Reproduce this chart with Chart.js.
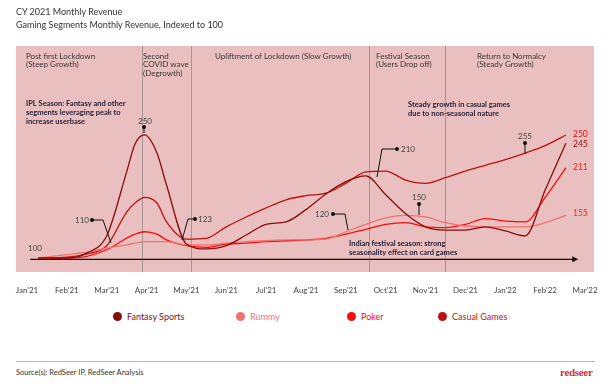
<!DOCTYPE html>
<html lang="en">
<head>
<meta charset="UTF-8">
<title>Gaming Segments Monthly Revenue</title>
<script src="https://cdn.jsdelivr.net/npm/chart.js@4.4.1/dist/chart.umd.min.js"></script>
<style>
    body { margin: 0; background: #fff; font-family: Lato, sans-serif; }
    #page { position: relative; width: 613px; height: 384px; overflow: hidden; }
    #graphe { position: absolute; left: 0; top: 0; }
    .titre { position: absolute; left: 16px; font-size: 9px; color: #333; white-space: nowrap; }
    .leg { position: absolute; top: 311px; font-size: 9px; white-space: nowrap; line-height: 12px; }
    .leg i { display: inline-block; width: 9px; height: 9px; border-radius: 50%; vertical-align: -1px; margin-right: 5px; }
    #trait { position: absolute; left: 16px; top: 361px; width: 579px; height: 1px; background: #b5b5b5; }
    #source { position: absolute; left: 16px; top: 368px; font-size: 7.5px; color: #333; }
    #logo { position: absolute; left: 560px; top: 366px; font-family: "Liberation Serif", serif; font-weight: bold; font-size: 11px; color: #d9302a; letter-spacing: -0.3px; }
</style>
</head>
<body>
<div id="page">
    <canvas id="graphe" width="613" height="300"></canvas>
    <div class="titre" style="top:6px">CY 2021 Monthly Revenue</div>
    <div class="titre" style="top:19px">Gaming Segments Monthly Revenue, Indexed to 100</div>
    <div id="zoneLegende"></div>
    <div id="trait"></div>
    <div id="source">Source(s): RedSeer IP, RedSeer Analysis</div>
    <div id="logo">redseer</div>
</div>
<script>
    // Libelles de l'axe des mois
    const moisLabels = ["Jan'21", "Feb'21", "Mar'21", "Apr'21", "May'21", "Jun'21", "Jul'21", "Aug'21",
        "Sep'21", "Oct'21", "Nov'21", "Dec'21", "Jan'22", "Feb'22", "Mar'22"];

    // Position (en mois depuis Jan'21) de chaque point
    const positions = [0.28, 1, 1.5, 2, 2.5, 2.71, 2.95, 3.26, 3.5, 4, 4.5, 5, 5.5, 6, 6.5, 7, 7.5, 8, 8.5,
        9, 9.5, 10, 10.5, 11, 11.5, 12, 12.5, 13, 13.52];

    // Indices (base 100)
    const fantasy = [100, 100, 106, 127, 205, 239, 250, 228, 189, 117, 111, 115, 128, 141, 144, 159, 178, 193, 200,
        177, 154, 138, 134, 134, 138, 133, 127, 183, 240];
    const rummy = [100, 104, 107, 112, 116, 118, 120, 120, 120, 116, 116, 118, 120, 121, 122, 122, 123, 132, 141,
        149, 152, 150, 143, 139, 138, 138, 138, 143, 152];
    const poker = [100, 100, 102, 110, 124, 129, 132, 129, 122, 115, 113, 117, 118, 120, 121, 122, 124, 129, 135,
        141, 143, 138, 137, 141, 148, 145, 144, 174, 210];
    const casual = [100, 101, 105, 115, 156, 167, 174, 167, 144, 123, 124, 138, 150, 161, 171, 176, 179, 191, 205,
        206, 195, 191, 198, 206, 213, 220, 228, 237, 250];

    const series = [
        { nom: 'Fantasy Sports', valeurs: fantasy, couleur: '#8b0c0c' },
        { nom: 'Rummy', valeurs: rummy, couleur: '#f27272' },
        { nom: 'Poker', valeurs: poker, couleur: '#ff0a0a' },
        { nom: 'Casual Games', valeurs: casual, couleur: '#bd1111' }
    ];

    // Separateurs des phases (en mois)
    const separateurs = [2.89, 4.11, 8.58, 10.49];

    // Legende HTML
    const posLegende = [113, 236, 347, 438];
    series.forEach((s, i) => {
        let item = document.createElement('div');
        item.className = 'leg';
        item.style.left = posLegende[i] + 'px';
        item.style.color = s.couleur;
        item.innerHTML = '<i style="background:' + s.couleur + '"></i>' + s.nom;
        document.querySelector('#zoneLegende').appendChild(item);
    });

    const texte = (ctx, t, x, y, font, couleur, align) => {
        ctx.font = font;
        ctx.fillStyle = couleur;
        ctx.textAlign = align || 'left';
        ctx.textBaseline = 'middle';
        ctx.fillText(t, x, y);
    };

    const point = (ctx, x, y) => {
        ctx.beginPath();
        ctx.arc(x, y, 2, 0, Math.PI * 2);
        ctx.fillStyle = '#111';
        ctx.fill();
    };

    const trace = (ctx, pts) => {
        ctx.beginPath();
        ctx.moveTo(pts[0][0], pts[0][1]);
        pts.slice(1).forEach(p => ctx.lineTo(p[0], p[1]));
        ctx.strokeStyle = '#111';
        ctx.lineWidth = 1;
        ctx.stroke();
    };

    // Fond rose, separateurs et axe flechee
    const fondPlugin = {
        id: 'fond',
        beforeDatasetsDraw(chart) {
            const { ctx, chartArea: a, scales } = chart;
            ctx.save();
            ctx.fillStyle = '#e9bfbf';
            ctx.fillRect(a.left, a.top, a.right - a.left, a.bottom - a.top);

            ctx.strokeStyle = '#a99393';
            ctx.lineWidth = 1;
            separateurs.forEach(m => {
                let x = Math.round(scales.x.getPixelForValue(m)) + 0.5;
                ctx.beginPath();
                ctx.moveTo(x, a.top);
                ctx.lineTo(x, a.bottom);
                ctx.stroke();
            });

            let y0 = scales.y.getPixelForValue(99) + 0.5;
            let xa = scales.x.getPixelForValue(0.08), xb = scales.x.getPixelForValue(13.83);
            ctx.strokeStyle = '#111';
            ctx.lineWidth = 1.2;
            ctx.beginPath();
            ctx.moveTo(xa, y0);
            ctx.lineTo(xb - 3, y0);
            ctx.stroke();
            ctx.beginPath();
            ctx.moveTo(xb, y0);
            ctx.lineTo(xb - 6, y0 - 3);
            ctx.lineTo(xb - 6, y0 + 3);
            ctx.closePath();
            ctx.fillStyle = '#111';
            ctx.fill();

            // Titres des phases
            const f = '8px Lato', c = '#3d3535';
            texte(ctx, 'Post first Lockdown', 26, 56, f, c);
            texte(ctx, '(Steep Growth)', 26, 64.5, f, c);
            texte(ctx, 'Second', 143, 56, f, c);
            texte(ctx, 'COVID wave', 143, 64.5, f, c);
            texte(ctx, '(Degrowth)', 143, 73, f, c);
            texte(ctx, 'Upliftment of Lockdown (Slow Growth)', 215, 56, f, c);
            texte(ctx, 'Festival Season', 376, 56, f, c);
            texte(ctx, '(Users Drop off)', 376, 64.5, f, c);
            texte(ctx, 'Return to Normalcy', 477, 56, f, c);
            texte(ctx, '(Steady Growth)', 477, 64.5, f, c);
            ctx.restore();
        },
        afterDatasetsDraw(chart) {
            const { ctx } = chart;
            ctx.save();
            const fb = 'bold 7.5px Lato', cb = '#2a2238';
            texte(ctx, 'IPL Season: Fantasy and other', 26, 104, fb, cb);
            texte(ctx, 'segments leveraging peak to', 26, 113, fb, cb);
            texte(ctx, 'increase userbase', 26, 122, fb, cb);
            texte(ctx, 'Steady growth in casual games', 408, 105, fb, cb);
            texte(ctx, 'due to non-seasonal nature', 408, 114, fb, cb);
            texte(ctx, 'Indian festival season: strong', 349, 244, fb, cb);
            texte(ctx, 'seasonality effect on card games', 349, 253, fb, cb);

            const fv = '8px Lato', cv = '#444';
            texte(ctx, '100', 28, 248, fv, cv);

            trace(ctx, [[92, 220], [103, 220], [111, 243]]);
            point(ctx, 92, 220);
            texte(ctx, '110', 89, 220, fv, cv, 'right');

            trace(ctx, [[144, 133], [144, 127]]);
            point(ctx, 144, 127);
            texte(ctx, '250', 145, 121, fv, cv, 'center');

            trace(ctx, [[182, 240], [188, 219], [195, 219]]);
            point(ctx, 195, 219);
            texte(ctx, '123', 198, 219, fv, cv);

            trace(ctx, [[377, 177], [382, 149], [397, 149]]);
            point(ctx, 397, 149);
            texte(ctx, '210', 401, 149, fv, cv);

            trace(ctx, [[333, 214], [345, 214], [348, 230]]);
            point(ctx, 333, 214);
            texte(ctx, '120', 329, 214, fv, cv, 'right');

            trace(ctx, [[419, 215], [419, 204]]);
            point(ctx, 419, 204);
            texte(ctx, '150', 419, 197, fv, cv, 'center');

            trace(ctx, [[525, 154], [525, 143]]);
            point(ctx, 525, 143);
            texte(ctx, '255', 525, 136, fv, cv, 'center');

            texte(ctx, '250', 573, 134, '8.5px Lato', '#e0141a');
            texte(ctx, '245', 573, 144, '8.5px Lato', '#8b0c0c');
            texte(ctx, '211', 573, 167, '8.5px Lato', '#ff1a1a');
            texte(ctx, '155', 573, 213, '8.5px Lato', '#ff2a2a');
            ctx.restore();
        }
    };

    const ctx = document.getElementById('graphe').getContext('2d');
    const chart = new Chart(ctx, {
        type: 'line',
        data: {
            datasets: series.map(s => ({
                label: s.nom,
                data: s.valeurs.map((v, i) => ({ x: positions[i], y: v })),
                borderColor: s.couleur,
                borderWidth: 1.3,
                pointRadius: 0,
                fill: false,
                cubicInterpolationMode: 'monotone'
            }))
        },
        options: {
            responsive: false,
            animation: false,
            devicePixelRatio: 1,
            layout: { padding: { left: 16, right: 19, top: 46, bottom: 0 } },
            plugins: { legend: { display: false }, tooltip: { enabled: false } },
            scales: {
                x: {
                    type: 'linear',
                    min: -0.276,
                    max: 14.225,
                    grid: { display: false },
                    border: { display: false },
                    afterFit: (s) => { s.height = 28; },
                    afterBuildTicks: (s) => { s.ticks = moisLabels.map((_, i) => ({ value: i })); },
                    ticks: {
                        padding: 6,
                        autoSkip: false,
                        maxRotation: 0,
                        color: '#444',
                        font: { family: 'Lato', size: 8 },
                        callback: (v) => moisLabels[v]
                    }
                },
                y: {
                    display: false,
                    min: 82.9,
                    max: 358.5
                }
            }
        },
        plugins: [fondPlugin]
    });
</script>
</body>
</html>
